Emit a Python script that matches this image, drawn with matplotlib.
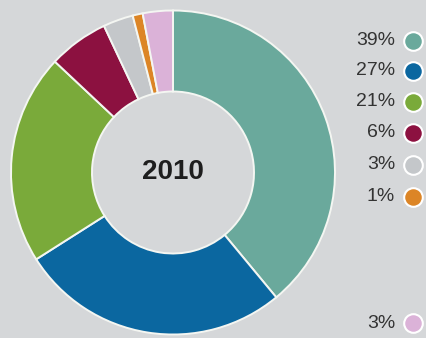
import matplotlib
matplotlib.use("Agg")
import matplotlib.pyplot as plt

# slice values (percent), clockwise from 12 o'clock
shares = [39, 27, 21, 6, 3, 1, 3]
labels = ["39%", "27%", "21%", "6%", "3%", "1%", "3%"]
colors = ["#6aa99c", "#0b67a0", "#7aaa3a", "#8c1140", "#c4c7ca", "#dc8526", "#dbb2d8"]
legend_y = [40.7, 70.5, 101.5, 133, 165, 197, 323]  # pixel rows from top
center_text = "2010"

W, H = 427, 338
bg = "#d5d7d9"

fig = plt.figure(figsize=(W / 100, H / 100), dpi=100)
fig.patch.set_facecolor(bg)
ax = fig.add_axes([0, 0, 1, 1])
ax.set_facecolor(bg)

cx, cy, r = 173, H - 172.5, 162
ax.pie(shares, colors=colors, startangle=90, counterclock=False,
       center=(cx, cy), radius=r, frame=True,
       wedgeprops=dict(width=r * 0.5, edgecolor="#f4f6f2", linewidth=1.4))
ax.set_xlim(0, W)
ax.set_ylim(0, H)
ax.set_aspect("equal")
ax.axis("off")

ax.text(cx, cy, center_text, ha="center", va="center", fontsize=20,
        fontweight="bold", color="#1e1e1e", family="Liberation Sans")

for lab, col, y in zip(labels, colors, legend_y):
    ax.text(395, H - y, lab, ha="right", va="center", fontsize=14,
            color="#333333", family="Liberation Sans")
    ax.scatter([413], [H - y], s=180, color=col, edgecolors="white",
               linewidths=1.5, zorder=3)

fig.savefig("out.png", dpi=100, facecolor=bg)
